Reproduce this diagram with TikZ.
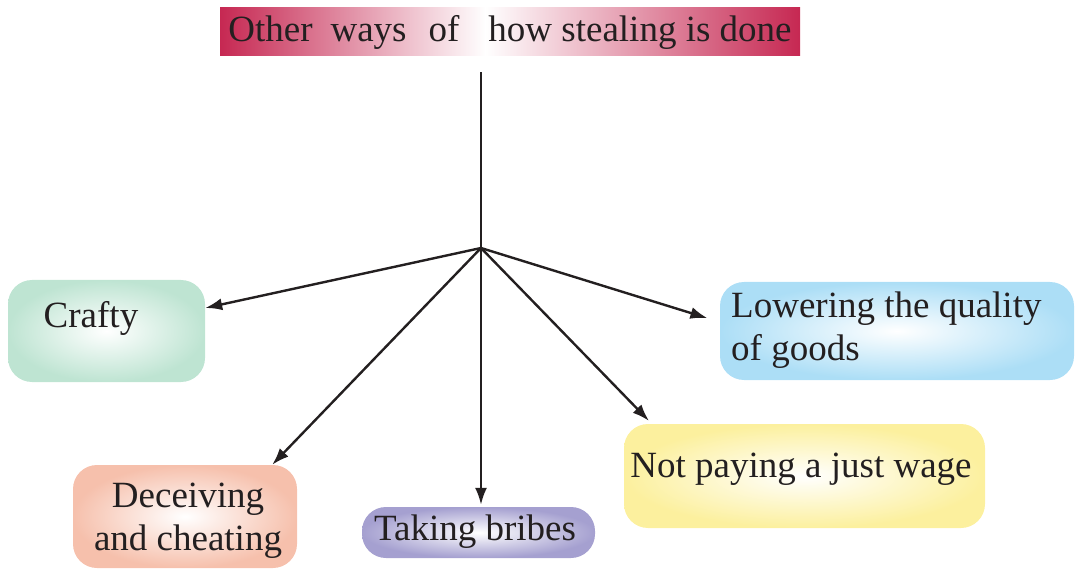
\documentclass[tikz,border=0pt]{standalone}
\usepackage{fontspec}
\setmainfont{Liberation Serif}
\usetikzlibrary{arrows.meta}
\definecolor{ink}{RGB}{35,31,32}
\definecolor{crim}{RGB}{198,40,82}
\definecolor{cgreen}{RGB}{190,228,210}
\definecolor{cpeach}{RGB}{246,192,172}
\definecolor{clav}{RGB}{165,160,208}
\definecolor{cyell}{RGB}{252,240,158}
\definecolor{cblue}{RGB}{172,222,246}
\begin{document}
\begin{tikzpicture}[x=1pt,y=-1pt,
  box/.style={rounded corners=24pt, inner sep=0pt, inner color=white},
  txt/.style={font=\fontsize{37}{43}\selectfont, text=ink, inner sep=0pt},
  conn/.style={line width=2.4pt, draw=ink, -{Latex[length=17pt,width=12pt]}}]
\useasboundingbox (0,0) rectangle (1076,569);

% title background (white near the gap between "of" and "how")
\path[left color=crim, right color=white] (220,8) rectangle (486,56);
\path[left color=white, right color=crim] (485,8) rectangle (800,56);
\node[txt, minimum width=580pt, minimum height=48pt] (title) at (510,32)
  {Other\hspace{18pt}ways\hspace{22pt}of\hspace{29pt}how stealing is done};

% boxes
\node[box, outer color=cgreen, minimum width=197pt, minimum height=102pt] (crafty) at (106.5,331) {};
\node[box, outer color=cpeach, minimum width=224pt, minimum height=103pt] (deceive) at (185,516.5) {};
\node[box, outer color=clav, minimum width=233pt, minimum height=51pt] (bribes) at (478.5,532.5) {};
\node[box, outer color=cyell, minimum width=361pt, minimum height=104pt] (wage) at (804.5,476) {};
\node[box, outer color=cblue, minimum width=354pt, minimum height=98pt] (lower) at (897,331) {};

% texts
\node[txt, anchor=base] (tcrafty) at (91,327) {Crafty};
\node[txt, anchor=north, align=center] (tdeceive) at (188,483) {Deceiving\\and cheating};
\node[txt, anchor=base] (tbribes) at (475,540) {Taking bribes};
\node[txt, anchor=base] (twage) at (801,477) {Not paying a just wage};
\node[txt, anchor=north west, align=left] (tlower) at (731,292) {Lowering the quality\\of goods};

% connectors
\coordinate (hub) at (481,248);
\draw[line width=2.4pt, draw=ink, shorten <=16pt] (hub |- title.south) -- (hub);
\draw[conn] (hub) -- ([yshift=23pt]crafty.east);
\draw[conn] (hub) -- ([xshift=-25pt]deceive.north east);
\draw[conn, shorten >=2pt] (hub) -- (hub |- bribes.north);
\draw[conn, shorten >=4pt] (hub) -- ([xshift=28pt]wage.north west);
\draw[conn, shorten >=13pt] (hub) -- ([yshift=9pt]lower.west);
\end{tikzpicture}
\end{document}
